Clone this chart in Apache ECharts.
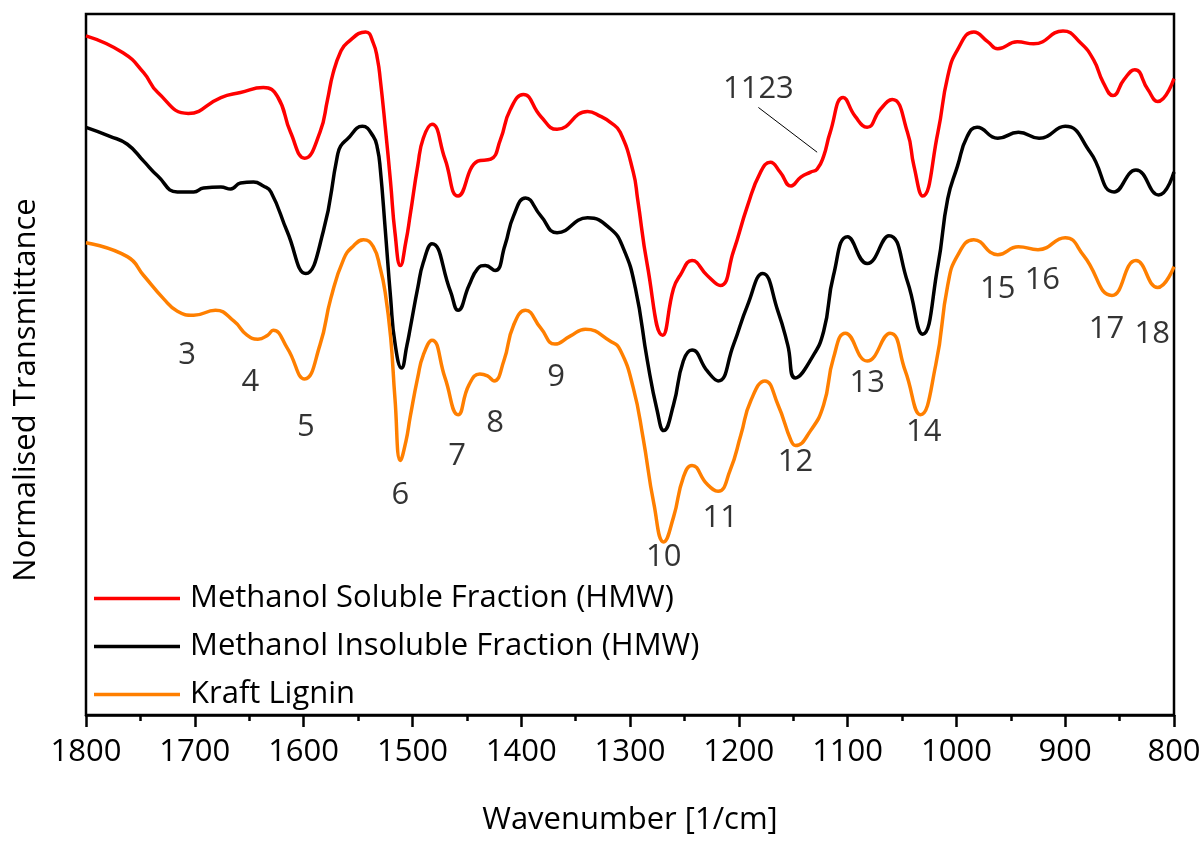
<!DOCTYPE html>
<html>
<head>
<meta charset="utf-8">
<script src="https://cdn.jsdelivr.net/npm/echarts@6/dist/echarts.min.js"></script>
<style>
html,body{margin:0;padding:0;background:#fff;}
#chart{width:1204px;height:841px;}
</style>
</head>
<body>
<div id="chart"></div>
<script>
// Methanol Soluble Fraction (HMW)
var msWave = [1800,1766,1747,1734,1706,1676,1658,1637,1624,1612,1599,1585,1578,1573,1566,1560,1543,1536,1532,1529.5,1525,1520,1516,1511,1506,1502,1495,1490,1482,1470,1458,1440,1428,1419,1410,1398,1382,1367,1339,1327,1318,1309,1297,1293,1284,1270,1260,1254,1243,1229,1217,1205,1192,1180,1171,1162,1152,1143,1134,1128,1122,1116,1104,1093,1082,1070,1059,1045,1039,1031,1017,1008,999,984,971,962,944,929,902,886,874,865,856,846,836,824,815,800];
var msValue = [683,666,646,626,605,621,626,631,622,586,560,586,619,645,667,676,687,676,659,639,592,535,485,452,476,503,553,580,594,559,522,557,559,579,609,624,602,589,607,602,596,586,546,519,452,382,429,442,457,442,432,466,512,546,556,546,532,541,546,549,562,586,621,602,591,609,619,586,552,522,586,642,669,687,677,670,677,675,688,676,659,636,623,639,649,629,617,640];

// Methanol Insoluble Fraction (HMW)
var miWave = [1800,1778,1762,1747,1734,1716,1701,1692,1676,1667,1658,1646,1637,1630,1615,1598,1582,1569,1566,1560,1546,1536,1532,1529.5,1525,1520,1516,1510,1505,1502,1495,1490,1482,1465,1458,1448,1440,1433,1424,1415,1407,1396,1382,1367,1339,1318,1306,1295,1284,1275,1269,1260,1251,1243,1229,1219,1205,1192,1178,1164,1155,1148,1133,1122,1113,1100,1082,1062,1045,1031,1017,1008,999,990,981,962,943,924,900,877,855,835,814,800];
var miValue = [591,582,574,557,542,526,526,530,531,529,535,536,532,526,486,444,486,562,572,579,592,582,569,549,489,419,374,349,372,389,430,455,474,426,407,432,449,452,447,472,502,520,502,485,500,489,469,429,356,306,286,312,356,367,346,336,372,412,444,406,372,339,359,386,442,481,454,482,436,383,452,519,552,582,591,580,586,580,592,566,526,548,523,546];

// Kraft Lignin
var klWave = [1800,1762,1747,1729,1716,1701,1681,1664,1652,1642,1633,1628,1615,1599,1585,1575,1563,1554,1545,1536,1529.5,1525,1520,1516,1511,1506,1502,1495,1490,1482,1470,1458,1448,1438,1431,1425,1416,1407,1396,1382,1369,1355,1341,1318,1309,1297,1288,1278,1269,1260,1251,1243,1229,1219,1208,1198,1189,1176,1164,1152,1148,1134,1122,1113,1102,1082,1061,1047,1033,1019,1008,999,984,962,943,925,900,883,857,835,815,800];
var klValue = [475,461,442,419,406,402,407,396,382,378,382,387,369,338,372,419,459,472,478,471,449,425,380,318,256,275,300,340,362,377,339,302,332,343,341,336,356,392,407,389,373,381,388,376,367,329,279,212,174,199,239,251,232,225,246,282,316,336,312,276,271,286,312,359,384,356,384,346,302,352,432,462,478,463,471,468,480,462,422,457,430,451];

var seriesNames = ['Methanol Soluble Fraction (HMW)', 'Methanol Insoluble Fraction (HMW)', 'Kraft Lignin'];
var seriesColors = ['#ff0000', '#000000', '#ff7f00'];

// Band annotations
var annText = ['3','4','5','6','7','8','9','10','11','12','13','14','15','16','17','18','1123'];
var annWave = [1707,1649,1598,1511,1459,1424,1368,1269,1217,1148,1082,1030,962,921,862,820,1182];
var annValue = [362,335,289,221,260,293,340,159,198,254,334,284,428,437,388,383,629];

// leader line for the 1123 band
var leaderWave = [1182, 1128];
var leaderValue = [611, 566];

var xTicks = {min: 800, max: 1800, interval: 100};

function pairs(w, v) { return w.map(function (x, i) { return [x, v[i]]; }); }

var FONT = 'Open Sans';
var chart = echarts.init(document.getElementById('chart'), null, {renderer: 'canvas'});

var lineSeries = [[msWave, msValue], [miWave, miValue], [klWave, klValue]].map(function (d, i) {
  return {
    name: seriesNames[i],
    type: 'line',
    data: pairs(d[0], d[1]),
    symbol: 'none',
    showSymbol: false,
    smooth: 0.5,
    lineStyle: {color: seriesColors[i], width: 3.5},
    itemStyle: {color: seriesColors[i]},
    z: 3 + i
  };
});

var option = {
  animation: false,
  backgroundColor: '#ffffff',
  textStyle: {fontFamily: FONT},
  grid: {left: 86, right: 30, top: 14, bottom: 122, show: true, borderColor: '#000', borderWidth: 2.5, backgroundColor: 'transparent'},
  legend: {
    data: seriesNames.map(function (n) { return {name: n, icon: 'rect'}; }),
    orient: 'vertical',
    left: 94,
    top: 583,
    padding: 0,
    itemWidth: 86,
    itemHeight: 3.5,
    itemGap: 17,
    textStyle: {fontFamily: FONT, fontSize: 31, color: '#000', padding: [0, 0, 0, 5]}
  },
  xAxis: {
    type: 'value',
    inverse: true,
    min: xTicks.min,
    max: xTicks.max,
    interval: xTicks.interval,
    name: 'Wavenumber [1/cm]',
    nameLocation: 'middle',
    nameGap: 90,
    nameTextStyle: {fontFamily: FONT, fontSize: 31, color: '#000'},
    axisLine: {show: true, lineStyle: {color: '#000', width: 2.5}},
    axisTick: {show: true, inside: false, length: 12, lineStyle: {color: '#000', width: 2.5}},
    minorTick: {show: true, splitNumber: 2, length: 6, lineStyle: {color: '#000', width: 2.5}},
    splitLine: {show: false},
    axisLabel: {fontFamily: FONT, fontSize: 31, color: '#000', margin: 22, formatter: function (v) { return String(v); }}
  },
  yAxis: {
    type: 'value',
    min: 0,
    max: 705,
    axisLine: {show: false},
    axisTick: {show: false},
    axisLabel: {show: false},
    splitLine: {show: false}
  },
  graphic: [{
    type: 'text',
    x: 26,
    y: 390,
    rotation: Math.PI / 2,
    style: {text: 'Normalised Transmittance', fontFamily: FONT, fontSize: 31, fill: '#000', align: 'center', verticalAlign: 'middle'}
  }],
  series: lineSeries.concat([
    {
      name: 'leader',
      type: 'line',
      data: pairs(leaderWave, leaderValue),
      symbol: 'none',
      lineStyle: {color: '#000', width: 1},
      z: 6,
      silent: true
    },
    {
      name: 'bands',
      type: 'scatter',
      symbolSize: 1,
      itemStyle: {color: 'rgba(0,0,0,0)'},
      data: annText.map(function (t, i) { return {name: t, value: [annWave[i], annValue[i]]}; }),
      label: {
        show: true,
        position: 'inside',
        formatter: function (p) { return p.name; },
        fontFamily: FONT,
        fontSize: 31,
        color: '#000',
        align: 'center',
        verticalAlign: 'middle'
      },
      z: 7,
      silent: true
    }
  ])
};
chart.setOption(option);
</script>
</body>
</html>
